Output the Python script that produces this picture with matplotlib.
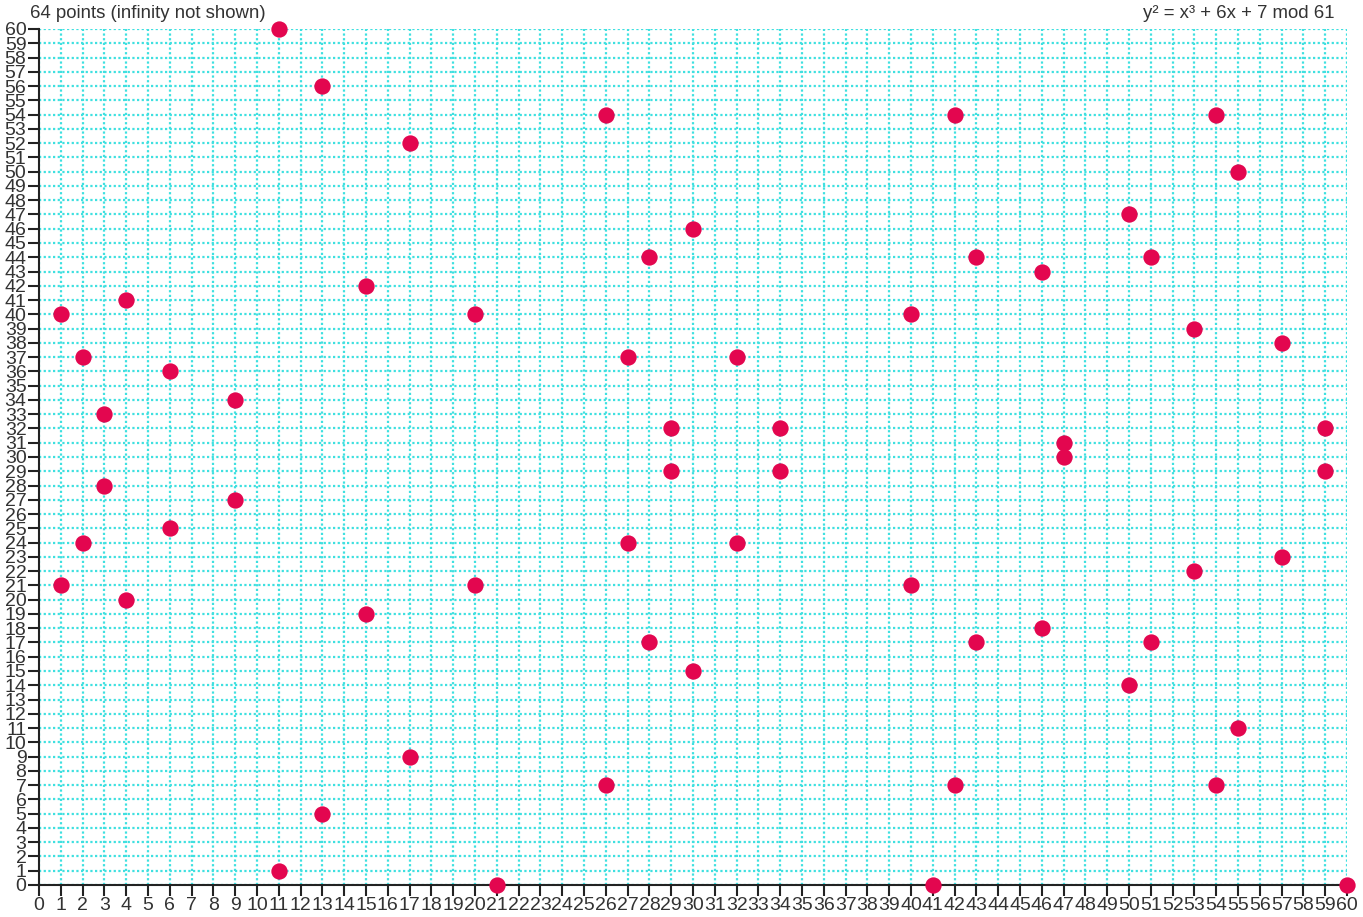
import matplotlib
matplotlib.use("Agg")
import matplotlib.pyplot as plt
from matplotlib.ticker import MultipleLocator

# curve y^2 = x^3 + 6x + 7 mod 61
xs = [1, 1, 2, 2, 3, 3, 4, 4, 6, 6, 9, 9, 11, 11, 13, 13, 15, 15, 17, 17,
      20, 20, 21, 26, 26, 27, 27, 28, 28, 29, 29, 30, 30, 32, 32, 34, 34,
      40, 40, 41, 42, 42, 43, 43, 46, 46, 47, 47, 50, 50, 51, 51, 53, 53,
      54, 54, 55, 55, 57, 57, 59, 59, 60]
ys = [40, 21, 37, 24, 33, 28, 41, 20, 36, 25, 34, 27, 60, 1, 56, 5, 42, 19, 52, 9,
      40, 21, 0, 54, 7, 37, 24, 44, 17, 32, 29, 46, 15, 37, 24, 32, 29,
      40, 21, 0, 54, 7, 44, 17, 43, 18, 31, 30, 47, 14, 44, 17, 39, 22,
      54, 7, 50, 11, 38, 23, 32, 29, 0]
left_title = "64 points (infinity not shown)"
right_title = "y² = x³ + 6x + 7 mod 61"

plt.rcParams['font.family'] = ['Liberation Sans', 'DejaVu Sans']
text_col = '#333333'

fig = plt.figure(figsize=(13.63, 9.17), dpi=100)
ax = fig.add_axes([0.0286, 0.0349, 0.9597, 0.9335])

ax.scatter(xs, ys, s=138, color='#e3064f', zorder=3, clip_on=False, linewidths=0)

ax.set_xlim(0, 60)
ax.set_ylim(0, 60)
ax.xaxis.set_major_locator(MultipleLocator(1))
ax.yaxis.set_major_locator(MultipleLocator(1))
ax.grid(True, color='#3fe0e0', linestyle=(0, (1, 1.1)), linewidth=1.6, zorder=1)
ax.set_axisbelow(True)

for side in ['top', 'right']:
    ax.spines[side].set_visible(False)
for side in ['left', 'bottom']:
    ax.spines[side].set_linewidth(1.5)
    ax.spines[side].set_color('#222222')

ax.tick_params(direction='out', length=8, width=1.5, color='#222222',
               labelsize=14, labelcolor=text_col, pad=1)

fig.text(0.022, 0.985, left_title, fontsize=13.4, color=text_col, va='center', ha='left')
fig.text(0.979, 0.985, right_title, fontsize=13.4, color=text_col, va='center', ha='right')

fig.savefig('out.png', dpi=100)
